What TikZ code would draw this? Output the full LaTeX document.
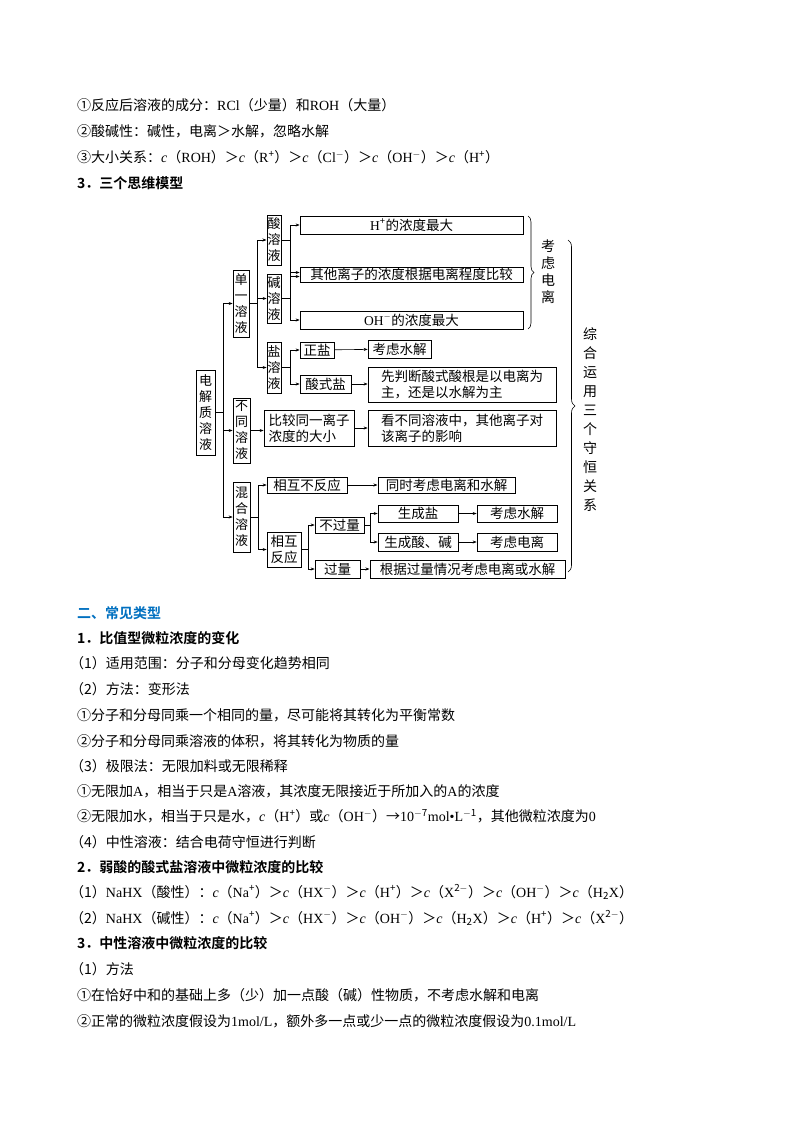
\documentclass[tikz,border=0pt]{standalone}
\usepackage{fontspec}
\setmainfont{Noto Sans CJK SC}[BoldFont={Noto Sans CJK SC Bold}]
\newfontfamily\tnr{Liberation Serif}
\usetikzlibrary{arrows.meta,decorations.pathreplacing}
\newcommand{\ci}{{\tnr\itshape c}}
\newcommand{\sps}[1]{\textsuperscript{#1}}
\newcommand{\mn}{\textsuperscript{$-$}}
\definecolor{hblue}{RGB}{0,112,192}
\begin{document}
\begin{tikzpicture}[x=1pt,y=-1pt,
  every node/.style={inner sep=0pt},
  txt/.style={anchor=west,font=\fontsize{14}{16}\selectfont},
  box/.style={draw,line width=0.7pt,font=\fontsize{13.5}{16}\selectfont,align=center},
  vbox/.style={box,font=\fontsize{13}{16}\selectfont},
  arr/.style={-{Stealth[length=4pt,width=3pt]},line width=0.6pt},
  ln/.style={line width=0.6pt}]
\useasboundingbox (0,0) rectangle (800,1132);
\fill[white] (0,0) rectangle (800,1132);
% page text
\node[txt] at (77,105) {①反应后溶液的成分：{\tnr RCl}（少量）和{\tnr ROH}（大量）};
\node[txt] at (77,131) {②酸碱性：碱性，电离＞水解，忽略水解};
\node[txt] at (77,157) {③大小关系：\ci（{\tnr ROH}）＞\ci（{\tnr R}\sps{+}）＞\ci（{\tnr Cl}\mn）＞\ci（{\tnr OH}\mn）＞\ci（{\tnr H}\sps{+}）};
\node[txt,font=\fontsize{14}{16}\selectfont\bfseries] at (77,183) {3．三个思维模型};
\node[txt,font=\fontsize{14}{16}\selectfont\bfseries,text=hblue] at (77,613) {二、常见类型};
\node[txt,font=\fontsize{14}{16}\selectfont\bfseries] at (77,638) {1．比值型微粒浓度的变化};
\node[txt] at (70,663) {（1）适用范围：分子和分母变化趋势相同};
\node[txt] at (70,689) {（2）方法：变形法};
\node[txt] at (77,715) {①分子和分母同乘一个相同的量，尽可能将其转化为平衡常数};
\node[txt] at (77,741) {②分子和分母同乘溶液的体积，将其转化为物质的量};
\node[txt] at (70,766) {（3）极限法：无限加料或无限稀释};
\node[txt] at (77,791) {①无限加{\tnr A}，相当于只是{\tnr A}溶液，其浓度无限接近于所加入的{\tnr A}的浓度};
\node[txt] at (77,816) {②无限加水，相当于只是水，\ci（{\tnr H}\sps{+}）或\ci（{\tnr OH}\mn）→{\tnr 10}\sps{$-$7}{\tnr mol•L}\sps{$-$1}，其他微粒浓度为{\tnr 0}};
\node[txt] at (70,842) {（4）中性溶液：结合电荷守恒进行判断};
\node[txt,font=\fontsize{14}{16}\selectfont\bfseries] at (77,867) {2．弱酸的酸式盐溶液中微粒浓度的比较};
\node[txt] at (70,892) {（1）{\tnr NaHX}（酸性）：\ci（{\tnr Na}\sps{+}）＞\ci（{\tnr HX}\mn）＞\ci（{\tnr H}\sps{+}）＞\ci（{\tnr X}\sps{2$-$}）＞\ci（{\tnr OH}\mn）＞\ci（{\tnr H}\textsubscript{2}{\tnr X}）};
\node[txt] at (70,918) {（2）{\tnr NaHX}（碱性）：\ci（{\tnr Na}\sps{+}）＞\ci（{\tnr HX}\mn）＞\ci（{\tnr OH}\mn）＞\ci（{\tnr H}\textsubscript{2}{\tnr X}）＞\ci（{\tnr H}\sps{+}）＞\ci（{\tnr X}\sps{2$-$}）};
\node[txt,font=\fontsize{14}{16}\selectfont\bfseries] at (77,943) {3．中性溶液中微粒浓度的比较};
\node[txt] at (70,969) {（1）方法};
\node[txt] at (77,995) {①在恰好中和的基础上多（少）加一点酸（碱）性物质，不考虑水解和电离};
\node[txt] at (77,1021) {②正常的微粒浓度假设为{\tnr 1mol/L}，额外多一点或少一点的微粒浓度假设为{\tnr 0.1mol/L}};
% diagram boxes
\node[vbox,minimum width=19,minimum height=85] (djz) at (205.5,412.5) {电\\解\\质\\溶\\液};
\node[vbox,minimum width=16,minimum height=67] (dy) at (241,303.5) {单\\一\\溶\\液};
\node[vbox,minimum width=14,minimum height=50,line width=1pt] (suan) at (274,240) {酸\\溶\\液};
\node[vbox,minimum width=14,minimum height=49] (jian) at (274,298.5) {碱\\溶\\液};
\node[vbox,minimum width=14,minimum height=51] (yan) at (274,367.5) {盐\\溶\\液};
\node[box,minimum width=223,minimum height=18] (hp) at (411.5,225) {{\tnr H}\sps{+}的浓度最大};
\node[box,minimum width=223,minimum height=15] (qt) at (411.5,274.5) {其他离子的浓度根据电离程度比较};
\node[box,minimum width=223,minimum height=18] (oh) at (411.5,320) {{\tnr OH}\mn 的浓度最大};
\node[box,minimum width=34,minimum height=16] (zy) at (317,350) {正盐};
\node[box,minimum width=63,minimum height=18] (ks1) at (399.5,349) {考虑水解};
\node[box,minimum width=51,minimum height=18] (ssy) at (325.5,384) {酸式盐};
\node[box,minimum width=188,minimum height=35,align=left] (xpd) at (462,384.5) {先判断酸式酸根是以电离为\\主，还是以水解为主};
\node[vbox,minimum width=17,minimum height=65] (bt) at (241.5,430.5) {不\\同\\溶\\液};
\node[box,minimum width=90,minimum height=36,align=left] (bj) at (309,428) {比较同一离子\\浓度的大小};
\node[box,minimum width=188,minimum height=36,align=left] (kbt) at (462,428) {看不同溶液中，其他离子对\\该离子的影响};
\node[vbox,minimum width=17,minimum height=70] (hh) at (241.5,517) {混\\合\\溶\\液};
\node[box,minimum width=80,minimum height=16] (bfy) at (307,485) {相互不反应};
\node[box,minimum width=137,minimum height=16,line width=1pt] (tsk) at (446.5,485) {同时考虑电离和水解};
\node[box,minimum width=34,minimum height=35] (fy) at (284,549.5) {相互\\反应};
\node[box,minimum width=49,minimum height=16] (bgl) at (339.5,525) {不过量};
\node[box,minimum width=80,minimum height=17] (scy) at (418,513.5) {生成盐};
\node[box,minimum width=80,minimum height=17] (ks2) at (517,513.5) {考虑水解};
\node[box,minimum width=80,minimum height=18] (scs) at (418,542) {生成酸、碱};
\node[box,minimum width=80,minimum height=18] (kdl) at (517,542) {考虑电离};
\node[box,minimum width=45,minimum height=18] (gl) at (337.5,569) {过量};
\node[box,minimum width=195,minimum height=18,line width=1pt] (gj) at (467.5,569) {根据过量情况考虑电离或水解};
% connectors
\coordinate (f1) at (223,0);
\draw[ln] (djz.east) -- (djz.east-|f1);
\draw[ln] (f1|-dy.west) -- (f1|-hh.west);
\draw[arr] (f1|-dy.west) -- (dy.west);
\draw[arr] (f1|-bt.west) -- (bt.west);
\draw[arr] (f1|-hh.west) -- (hh.west);
\coordinate (f2) at (257,0);
\draw[ln] (dy.east) -- (dy.east-|f2);
\draw[ln] (f2|-suan.west) -- (f2|-yan.west);
\draw[arr] (f2|-suan.west) -- (suan.west);
\draw[arr] (f2|-jian.west) -- (jian.west);
\draw[arr] (f2|-yan.west) -- (yan.west);
\coordinate (f3) at (290,0);
\draw[ln] (suan.east) -- (suan.east-|f3);
\draw[ln] (f3|-hp.west) -- ([yshift=-2]f3|-qt.west);
\draw[arr] (f3|-hp.west) -- (hp.west);
\draw[arr] ([yshift=-2]f3|-qt.west) -- ([yshift=-2]qt.west);
\draw[ln] (jian.east) -- (jian.east-|f3);
\draw[ln] ([yshift=2]f3|-qt.west) -- (f3|-oh.west);
\draw[arr] ([yshift=2]f3|-qt.west) -- ([yshift=2]qt.west);
\draw[arr] (f3|-oh.west) -- (oh.west);
\draw[ln] (yan.east) -- (yan.east-|f3);
\draw[ln] (f3|-zy.west) -- (f3|-ssy.west);
\draw[arr] (f3|-zy.west) -- (zy.west);
\draw[arr] (f3|-ssy.west) -- (ssy.west);
\draw[arr] (zy) -- (ks1);
\draw[arr] (ssy) -- (ssy-|xpd.west);
\draw[arr] (bt) -- (bt-|bj.west);
\draw[arr] (bj) -- (kbt);
\coordinate (f4) at (258,0);
\draw[ln] (hh.east) -- (hh.east-|f4);
\draw[ln] (f4|-bfy.west) -- (f4|-fy.west);
\draw[arr] (f4|-bfy.west) -- (bfy.west);
\draw[arr] (f4|-fy.west) -- (fy.west);
\draw[arr] (bfy) -- (tsk);
\coordinate (f5) at (308,0);
\draw[ln] (fy.east) -- (fy.east-|f5);
\draw[ln] (f5|-bgl.west) -- (f5|-gl.west);
\draw[arr] (f5|-bgl.west) -- (bgl.west);
\draw[arr] (f5|-gl.west) -- (gl.west);
\draw[arr] (gl) -- (gj);
\coordinate (f6) at (370,0);
\draw[ln] (bgl.east) -- (bgl.east-|f6);
\draw[ln] (f6|-scy.west) -- (f6|-scs.west);
\draw[arr] (f6|-scy.west) -- (scy.west);
\draw[arr] (f6|-scs.west) -- (scs.west);
\draw[arr] (scy) -- (ks2);
\draw[arr] (scs) -- (kdl);
% braces
\coordinate (b1a) at (528,216);
\coordinate (b1b) at (528,329);
\draw[ln,decorate,decoration={brace,amplitude=6pt}] (b1a) -- (b1b);
\node[font=\fontsize{14}{17}\selectfont,align=center] (kl) at (548,272) {考\\虑\\电\\离};
\coordinate (b2a) at (568,240);
\coordinate (b2b) at (568,572);
\draw[ln,decorate,decoration={brace,amplitude=7pt}] (b2a) -- (b2b);
\node[font=\fontsize{14}{19}\selectfont,align=center] (zh) at (590,420) {综\\合\\运\\用\\三\\个\\守\\恒\\关\\系};
\end{tikzpicture}
\end{document}
